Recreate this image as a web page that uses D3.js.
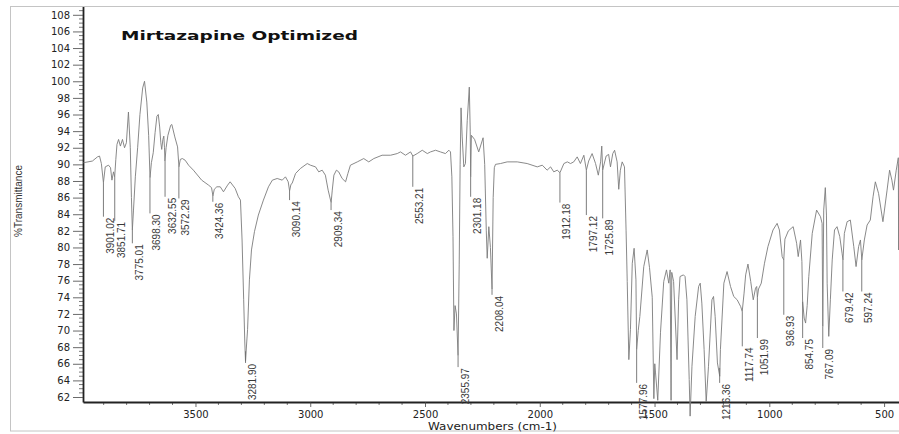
<!DOCTYPE html>
<html>
<head>
<meta charset="utf-8">
<script src="https://cdn.jsdelivr.net/npm/d3@7/dist/d3.min.js"></script>
<style>
  html, body { margin: 0; padding: 0; background: #fff; }
  svg { display: block; }
</style>
</head>
<body>
<svg id="chart" width="899" height="434"></svg>
<script>
// FTIR spectrum: wavenumber (cm-1) and % transmittance
const wavenumbers = [
  3988, 3949, 3927, 3918, 3910, 3901, 3893, 3879, 3870, 3864, 3857, 3852, 3847, 3842, 3835, 3827, 3818, 3809, 3801,
  3792, 3784, 3779, 3775, 3770, 3762, 3752, 3742, 3730, 3722, 3712, 3704, 3698, 3692, 3684, 3676, 3668, 3662,
  3656, 3651, 3647, 3642, 3638, 3635, 3633, 3628, 3620, 3608, 3603, 3590, 3578, 3572, 3566, 3557, 3545, 3530,
  3509, 3473, 3443, 3430, 3424, 3418, 3407, 3392, 3378, 3360, 3349, 3327, 3313, 3304, 3297, 3290, 3285, 3282,
  3277, 3273, 3265, 3256, 3243, 3226, 3204, 3182, 3165, 3144, 3122, 3108, 3096, 3090, 3084, 3079, 3064, 3043,
  3013, 2999, 2977, 2963, 2948, 2934, 2922, 2909, 2904, 2897, 2886, 2876, 2861, 2846, 2836, 2825, 2795, 2767,
  2745, 2723, 2687, 2650, 2621, 2607, 2585, 2563, 2553, 2534, 2512, 2490, 2476, 2454, 2433, 2411, 2396, 2389,
  2383, 2378, 2374, 2369, 2363, 2356, 2351, 2347, 2343, 2338, 2331, 2324, 2316, 2307, 2303, 2301, 2298, 2284,
  2266, 2247, 2240, 2233, 2229, 2222, 2215, 2208, 2203, 2198, 2193, 2171, 2142, 2098, 2055, 2011, 1989, 1968,
  1953, 1939, 1924, 1912, 1895, 1880, 1866, 1852, 1837, 1823, 1808, 1797, 1787, 1772, 1757, 1745, 1735, 1730,
  1726, 1711, 1700, 1692, 1682, 1674, 1663, 1656, 1649, 1641, 1631, 1624, 1619, 1612, 1605, 1597, 1589, 1581,
  1578, 1571, 1564, 1547, 1532, 1522, 1510, 1503, 1499, 1496, 1486, 1474, 1460, 1448, 1438, 1432, 1428, 1425,
  1417, 1402, 1395, 1389, 1374, 1367, 1359, 1349, 1345, 1337, 1323, 1308, 1301, 1294, 1284, 1275, 1265, 1250,
  1243, 1236, 1226, 1216, 1213, 1198, 1184, 1169, 1155, 1140, 1125, 1118, 1110, 1103, 1093, 1081, 1070, 1060,
  1055, 1052, 1047, 1035, 1021, 1006, 984, 966, 956, 944, 937, 932, 917, 896, 881, 874, 864, 858, 855, 848, 842,
  835, 828, 813, 794, 777, 770, 767, 763, 756, 751, 748, 741, 734, 726, 716, 705, 693, 683, 679, 673, 661, 647,
  632, 622, 611, 603, 597, 586, 574, 560, 548, 538, 524, 505, 487, 476, 466, 459, 447, 438, 436.5, 435
];
const transmittance = [
  90.2, 90.4, 90.9, 91.0, 90.1, 87.8, 89.7, 89.9, 89.6, 88.1, 89.1, 88.5, 90.6, 92.4, 93.0, 92.2, 93.0, 92.0, 92.6,
  96.3, 92.0, 86.0, 82.1, 84.5, 88.5, 92.0, 96.0, 99.2, 100.0, 97.5, 93.5, 88.4, 90.2, 91.4, 93.8, 95.8, 96.0,
  94.5, 92.6, 91.8, 93.0, 93.4, 92.0, 90.4, 92.0, 93.5, 94.7, 94.8, 93.3, 92.1, 89.7, 90.6, 90.7, 90.5, 89.9,
  89.3, 88.1, 87.5, 87.2, 86.2, 87.0, 87.3, 87.3, 86.7, 87.5, 87.9, 87.1, 86.1, 85.7, 80.9, 73.7, 68.5, 66.3,
  68.5, 70.1, 76.1, 79.7, 81.9, 83.9, 85.7, 87.3, 88.1, 88.3, 88.1, 88.5, 87.9, 86.8, 87.6, 87.7, 88.9, 89.5,
  90.1, 89.9, 89.7, 89.1, 89.3, 88.7, 86.9, 85.4, 86.9, 88.7, 89.3, 89.1, 88.3, 87.9, 88.9, 89.9, 90.3, 90.7,
  90.3, 90.7, 91.1, 91.1, 91.3, 91.5, 91.1, 91.5, 91.0, 91.3, 91.7, 91.3, 91.5, 91.7, 91.5, 91.3, 91.7, 91.5,
  88.5, 81.3, 70.0, 73.0, 72.0, 67.0, 78.0, 90.0, 96.8, 93.3, 89.7, 90.1, 95.3, 99.3, 94.0, 88.5, 93.5, 93.0,
  91.5, 93.2, 90.0, 82.0, 78.7, 82.5, 80.0, 75.0, 86.0, 89.6, 90.0, 90.1, 90.3, 90.3, 90.1, 89.7, 89.9, 89.3,
  89.7, 89.1, 89.3, 89.0, 90.1, 90.3, 90.1, 90.3, 90.9, 90.1, 91.1, 89.3, 90.4, 91.3, 90.1, 88.7, 90.3, 92.2,
  89.3, 91.0, 91.2, 89.7, 91.3, 91.7, 90.3, 87.0, 89.3, 90.3, 89.7, 82.0, 75.9, 66.5, 70.1, 78.1, 79.9, 76.1,
  67.7, 70.0, 71.7, 77.7, 79.7, 77.6, 74.0, 61.8, 66.0, 65.0, 61.6, 69.8, 75.9, 77.3, 75.7, 77.3, 61.6, 77.0,
  75.9, 66.5, 73.7, 76.5, 76.7, 76.5, 73.7, 64.1, 59.7, 65.7, 71.7, 75.3, 75.7, 73.3, 67.7, 61.4, 65.7, 73.7,
  74.1, 71.7, 66.1, 64.5, 67.7, 75.7, 77.1, 75.3, 74.1, 73.7, 72.9, 72.3, 74.5, 76.7, 78.0, 75.9, 73.7, 75.1,
  75.3, 74.0, 75.0, 75.7, 78.1, 80.1, 82.1, 82.9, 82.1, 78.9, 78.5, 81.0, 82.0, 82.5, 80.5, 78.9, 80.9, 78.3, 73.5, 71.5, 70.9,
  73.0, 76.5, 81.7, 84.5, 83.7, 82.9, 70.5, 84.5, 87.2, 83.9, 75.7, 69.3, 73.7, 78.5, 82.1, 82.5, 81.3, 79.3, 78.5, 81.7, 83.1, 83.3,
  80.1, 77.7, 80.1, 80.9, 78.5, 80.9, 82.7, 83.3, 86.1, 87.9, 86.5, 83.1, 86.9, 89.3, 88.1, 86.9, 89.3, 90.8, 79.7, 90.0
];

// Labelled peaks: position, %T at the minimum, %T where the label text starts
const peakPositions = [3901.02, 3851.71, 3775.01, 3698.30, 3632.55, 3572.29, 3424.36, 3281.90, 3090.14, 2909.34,
  2553.21, 2355.97, 2301.18, 2208.04, 1912.18, 1797.12, 1725.89, 1577.96, 1216.36, 1117.74, 1051.99, 936.93,
  854.75, 767.09, 679.42, 597.24];
const peakMinima = [87.8, 88.5, 82.1, 88.4, 90.4, 89.7, 86.2, 67.5, 86.8, 85.4, 91.0, 67.0, 88.5, 75.0, 89.0,
  89.3, 89.3, 67.7, 65.5, 72.3, 74.0, 78.5, 73.5, 70.5, 78.5, 78.5];
const peakLabelLevels = [83.7, 83.2, 80.5, 84.1, 86.1, 85.9, 85.5, 66.1, 85.7, 84.5, 87.3, 65.6, 86.1, 74.3, 85.4,
  83.9, 83.5, 63.7, 63.7, 68.1, 69.1, 71.9, 69.1, 67.9, 74.7, 74.7];

const yTickValues = d3.range(62, 109, 2);
const xTickValues = [3500, 3000, 2500, 2000, 1500, 1000, 500];

const svg = d3.select("#chart");
const plotLeft = 83, plotRight = 899, plotTop = 6.5, plotBottom = 402;

const x = d3.scaleLinear().domain([3990, 435]).range([plotLeft, plotRight]);
const y = d3.scaleLinear().domain([61.4, 109]).range([plotBottom, plotTop]);

// outer frame
svg.append("rect")
  .attr("x", 10.5).attr("y", 6.5).attr("width", 900).attr("height", 424.5)
  .attr("fill", "none").attr("stroke", "#c4c4c4").attr("stroke-width", 1);

// minor ticks
svg.append("g").selectAll("line")
  .data(d3.range(62, 109, 0.5).filter(v => v % 2 !== 0))
  .join("line")
  .attr("x1", plotLeft - 4).attr("x2", plotLeft)
  .attr("y1", d => y(d)).attr("y2", d => y(d))
  .attr("stroke", "#555").attr("stroke-width", 0.8);

svg.append("g").selectAll("line")
  .data(d3.range(500, 3901, 100).filter(v => v % 500 !== 0))
  .join("line")
  .attr("x1", d => x(d)).attr("x2", d => x(d))
  .attr("y1", plotBottom).attr("y2", plotBottom + 3)
  .attr("stroke", "#555").attr("stroke-width", 0.8);

// y axis
const yAxis = svg.append("g")
  .attr("transform", `translate(${plotLeft},0)`)
  .call(d3.axisLeft(y).tickValues(yTickValues).tickFormat(d3.format("d"))
    .tickSize(10).tickSizeOuter(0).tickPadding(3));
yAxis.select(".domain").attr("stroke", "#222").attr("stroke-width", 1.8);
yAxis.selectAll(".tick line").attr("stroke", "#444").attr("stroke-width", 0.8);
yAxis.selectAll(".tick text")
  .attr("font-family", "'DejaVu Sans', sans-serif").attr("font-size", 10).attr("fill", "#222");

// x axis
const xAxis = svg.append("g")
  .attr("transform", `translate(0,${plotBottom})`)
  .call(d3.axisBottom(x).tickValues(xTickValues).tickFormat(d3.format("d"))
    .tickSize(5).tickSizeOuter(0).tickPadding(4));
xAxis.select(".domain").attr("stroke", "#222").attr("stroke-width", 1.8);
xAxis.selectAll(".tick line").attr("stroke", "#444").attr("stroke-width", 0.8);
xAxis.selectAll(".tick text")
  .attr("font-family", "'DejaVu Sans', sans-serif").attr("font-size", 10).attr("fill", "#222");

// spectrum trace
const spectrum = wavenumbers.map((w, i) => [w, transmittance[i]]);
svg.append("path")
  .datum(spectrum)
  .attr("fill", "none")
  .attr("stroke", "#7c7c7c")
  .attr("stroke-width", 0.9)
  .attr("stroke-linejoin", "round")
  .attr("d", d3.line().x(d => x(d[0])).y(d => y(d[1])));

// peak markers and labels
const fmt = d3.format(".2f");
const peaks = peakPositions.map((p, i) => ({ pos: p, min: peakMinima[i], level: peakLabelLevels[i] }));
const pg = svg.append("g");
pg.selectAll("line")
  .data(peaks)
  .join("line")
  .attr("x1", d => x(d.pos)).attr("x2", d => x(d.pos))
  .attr("y1", d => y(d.min)).attr("y2", d => y(d.level))
  .attr("stroke", "#6e6e6e").attr("stroke-width", 0.9);
pg.selectAll("text")
  .data(peaks)
  .join("text")
  .attr("transform", d => `translate(${x(d.pos) + 10.5},${y(d.level) + 1}) rotate(-90)`)
  .attr("text-anchor", "end")
  .attr("font-family", "'Liberation Sans Narrow', 'Arial Narrow', sans-serif")
  .attr("font-size", 10)
  .attr("fill", "#3a3a3a")
  .text(d => fmt(d.pos));

// titles
svg.append("text")
  .attr("x", 121).attr("y", 39.5)
  .attr("font-family", "'DejaVu Sans', sans-serif")
  .attr("font-weight", "bold")
  .attr("font-size", 12)
  .attr("textLength", 237)
  .attr("lengthAdjust", "spacingAndGlyphs")
  .attr("fill", "#111")
  .text("Mirtazapine Optimized");

svg.append("text")
  .attr("transform", "translate(22,201) rotate(-90)")
  .attr("text-anchor", "middle")
  .attr("font-family", "'Liberation Sans Narrow', 'Arial Narrow', sans-serif")
  .attr("font-size", 10)
  .attr("fill", "#333")
  .text("%Transmittance");

svg.append("text")
  .attr("x", 492.5).attr("y", 429.5)
  .attr("text-anchor", "middle")
  .attr("font-family", "'DejaVu Sans', sans-serif")
  .attr("font-size", 10)
  .attr("textLength", 129)
  .attr("lengthAdjust", "spacingAndGlyphs")
  .attr("fill", "#222")
  .text("Wavenumbers (cm-1)");
</script>
</body>
</html>
